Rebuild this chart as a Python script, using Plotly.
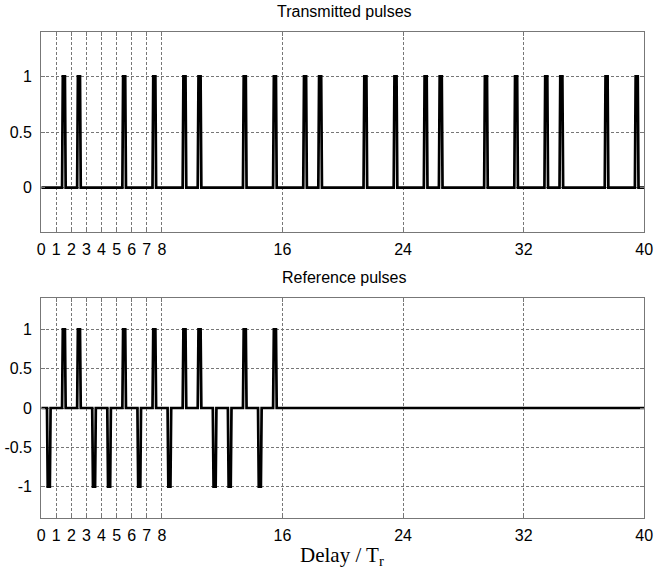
import plotly.graph_objects as go

# Chip values per unit delay slot (40 slots, T_r each)
transmitted_chips = [0, 1, 1, 0, 0, 1, 0, 1,
                     0, 1, 1, 0, 0, 1, 0, 1,
                     0, 1, 1, 0, 0, 1, 0, 1,
                     0, 1, 1, 0, 0, 1, 0, 1,
                     0, 1, 1, 0, 0, 1, 0, 1]
reference_chips = [-1, 1, 1, -1, -1, 1, -1, 1,
                   -1, 1, 1, -1, -1, 1, -1, 1,
                   0, 0, 0, 0, 0, 0, 0, 0,
                   0, 0, 0, 0, 0, 0, 0, 0,
                   0, 0, 0, 0, 0, 0, 0, 0]

x_tick_vals = [0, 1, 2, 3, 4, 5, 6, 7, 8, 16, 24, 32, 40]
x_tick_text = ["0", "1", "2", "3", "4", "5", "6", "7", "8", "16", "24", "32", "40"]
top_y_vals = [0, 0.5, 1]
top_y_text = ["0", "0.5", "1"]
bot_y_vals = [-1, -0.5, 0, 0.5, 1]
bot_y_text = ["-1", "-0.5", "0", "0.5", "1"]

BASE_HALF = 0.12   # half-width of a pulse at its base
TOP_HALF = 0.07    # half-width of a pulse at its peak


def pulse_train(chips):
    """Trapezoidal pulse centred in each slot with the chip's amplitude."""
    xs, ys = [], []
    for k, v in enumerate(chips):
        c = k + 0.5
        if v == 0:
            xs += [k, k + 1]
            ys += [0, 0]
        else:
            xs += [k, c - BASE_HALF, c - TOP_HALF, c + TOP_HALF, c + BASE_HALF, k + 1]
            ys += [0, 0, v, v, 0, 0]
    return xs, ys


W, H = 665, 585
tx, ty = pulse_train(transmitted_chips)
rx, ry = pulse_train(reference_chips)

fig = go.Figure()
line_style = dict(color="black", width=2.7)
fig.add_trace(go.Scatter(x=tx, y=ty, mode="lines", line=line_style,
                         xaxis="x", yaxis="y", showlegend=False))
fig.add_trace(go.Scatter(x=rx, y=ry, mode="lines", line=line_style,
                         xaxis="x2", yaxis="y2", showlegend=False))

sans = "Liberation Sans Narrow, Arial Narrow, Liberation Sans, Arial"
tick_font = dict(family=sans, size=16, color="black")
common_axis = dict(
    showline=True, linecolor="#777", linewidth=1.2, mirror="ticks",
    ticks="inside", ticklen=4, tickcolor="#777",
    showgrid=True, gridcolor="#777", gridwidth=0.7, griddash="3px,2px",
    zeroline=False, tickfont=tick_font,
)
x_dom = [38 / W, 653 / W]

fig.update_layout(
    width=W, height=H,
    margin=dict(l=0, r=0, t=0, b=0),
    paper_bgcolor="white", plot_bgcolor="white",
    xaxis=dict(domain=x_dom, range=[0, 40], tickvals=x_tick_vals,
               ticktext=x_tick_text, anchor="y", ticklabelstandoff=3, **common_axis),
    yaxis=dict(domain=[1 - 232 / H, 1 - 32 / H], range=[-0.4, 1.4],
               tickvals=top_y_vals, ticktext=top_y_text, anchor="x",
               ticklabelstandoff=5, **common_axis),
    xaxis2=dict(domain=x_dom, range=[0, 40], tickvals=x_tick_vals,
                ticktext=x_tick_text, anchor="y2", ticklabelstandoff=3, **common_axis),
    yaxis2=dict(domain=[1 - 518 / H, 1 - 298 / H], range=[-1.4, 1.4],
                tickvals=bot_y_vals, ticktext=bot_y_text, anchor="x2",
                ticklabelstandoff=5, **common_axis),
    annotations=[
        dict(text="Transmitted pulses", x=347 / W, y=1 - 11 / H, xref="paper",
             yref="paper", showarrow=False, xanchor="center", yanchor="middle",
             font=dict(family=sans, size=16, color="black")),
        dict(text="Reference pulses", x=347 / W, y=1 - 277 / H, xref="paper",
             yref="paper", showarrow=False, xanchor="center", yanchor="middle",
             font=dict(family=sans, size=16, color="black")),
        dict(text="Delay / T<sub>r</sub>", x=345 / W, y=1 - 556 / H, xref="paper",
             yref="paper", showarrow=False, xanchor="center", yanchor="middle",
             font=dict(family="Liberation Serif, Times New Roman, serif",
                       size=21, color="black")),
    ],
)

fig.write_html("out.html")
